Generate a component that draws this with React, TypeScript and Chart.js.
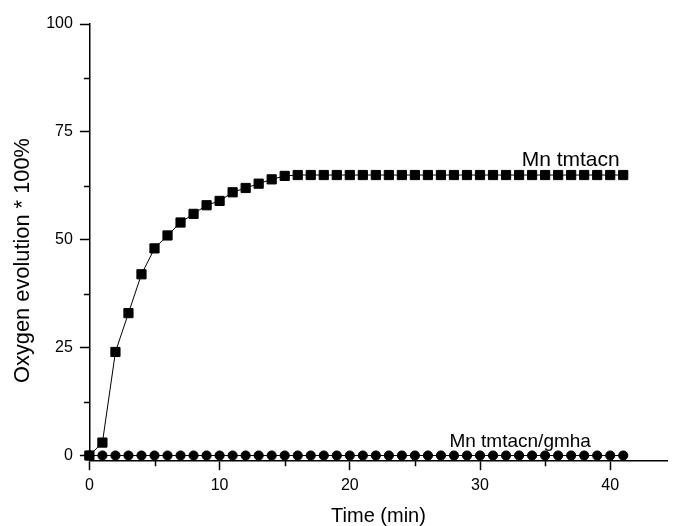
import React, { useEffect, useRef } from 'react';
import { Chart, registerables } from 'chart.js';

Chart.register(...registerables);

// Sampling times (min)
const TIME_MIN = [
  0, 1, 2, 3, 4, 5, 6, 7, 8, 9, 10, 11, 12, 13, 14, 15, 16, 17, 18, 19, 20,
  21, 22, 23, 24, 25, 26, 27, 28, 29, 30, 31, 32, 33, 34, 35, 36, 37, 38, 39, 40, 41,
];

// Oxygen evolution (* 100%) for Mn tmtacn
const MN_TMTACN = [
  0, 3, 24, 33, 42, 48, 51, 54, 56, 58, 59, 61, 62, 63, 64, 64.8, 65, 65, 65, 65, 65,
  65, 65, 65, 65, 65, 65, 65, 65, 65, 65, 65, 65, 65, 65, 65, 65, 65, 65, 65, 65, 65,
];

// Oxygen evolution (* 100%) for Mn tmtacn/gmha
const MN_TMTACN_GMHA = [
  0, 0, 0, 0, 0, 0, 0, 0, 0, 0, 0, 0, 0, 0, 0, 0, 0, 0, 0, 0, 0,
  0, 0, 0, 0, 0, 0, 0, 0, 0, 0, 0, 0, 0, 0, 0, 0, 0, 0, 0, 0, 0,
];

const X_MAJOR_TICKS = [0, 10, 20, 30, 40];
const X_MINOR_TICKS = [5, 15, 25, 35];
const Y_MAJOR_TICKS = [0, 25, 50, 75, 100];
const Y_MINOR_TICKS = [12.5, 37.5, 62.5, 87.5];

const SERIES_NAMES = ['Mn tmtacn', 'Mn tmtacn/gmha'];
const X_TITLE = 'Time (min)';
const Y_TITLE = 'Oxygen evolution * 100%';

const FONT = '"Liberation Sans", Arial, sans-serif';
const W = 675;
const H = 526;

// In-plot series labels, anchored in data units (left edge, baseline)
const SERIES_LABELS = [
  { text: SERIES_NAMES[0], x: 33.2, y: 67.1, size: 21 },
  { text: SERIES_NAMES[1], x: 27.65, y: 2.0, size: 19 },
];

const decorations = {
  id: 'decorations',
  afterDraw(chart: any) {
    const { ctx, chartArea, scales } = chart;
    const xs = scales.x;
    const ys = scales.y;
    ctx.save();
    ctx.strokeStyle = '#000';
    ctx.lineWidth = 1.5;
    // minor ticks
    ctx.beginPath();
    X_MINOR_TICKS.forEach((v) => {
      const px = Math.round(xs.getPixelForValue(v)) + 0.5;
      ctx.moveTo(px, chartArea.bottom);
      ctx.lineTo(px, chartArea.bottom + 5.5);
    });
    Y_MINOR_TICKS.forEach((v) => {
      const py = Math.round(ys.getPixelForValue(v)) + 0.5;
      ctx.moveTo(chartArea.left - 5.5, py);
      ctx.lineTo(chartArea.left, py);
    });
    ctx.stroke();

    ctx.fillStyle = '#000';
    // series labels
    ctx.textAlign = 'left';
    ctx.textBaseline = 'alphabetic';
    SERIES_LABELS.forEach((l) => {
      ctx.font = `${l.size}px ${FONT}`;
      ctx.fillText(l.text, xs.getPixelForValue(l.x), ys.getPixelForValue(l.y));
    });

    // axis titles
    ctx.textAlign = 'center';
    ctx.font = `20px ${FONT}`;
    ctx.fillText(X_TITLE, (chartArea.left + chartArea.right) / 2, 522);
    ctx.save();
    ctx.translate(28.5, 260.5);
    ctx.rotate(-Math.PI / 2);
    ctx.font = `21.8px ${FONT}`;
    ctx.fillText(Y_TITLE, 0, 0);
    ctx.restore();
    ctx.restore();
  },
};

export default function App() {
  const ref = useRef<HTMLCanvasElement>(null);

  useEffect(() => {
    document.body.style.margin = '0';
    const canvas = ref.current;
    if (!canvas) return;
    const chart = new Chart(canvas, {
      type: 'line',
      data: {
        datasets: [
          {
            label: SERIES_NAMES[0],
            data: TIME_MIN.map((t, i) => ({ x: t, y: MN_TMTACN[i] })),
            borderColor: '#000',
            backgroundColor: '#000',
            borderWidth: 1,
            pointStyle: 'rect',
            pointRadius: 6.5,
            pointBorderWidth: 1,
            pointBackgroundColor: '#000',
            pointBorderColor: '#000',
            tension: 0,
            clip: false,
          },
          {
            label: SERIES_NAMES[1],
            data: TIME_MIN.map((t, i) => ({ x: t, y: MN_TMTACN_GMHA[i] })),
            borderColor: '#000',
            backgroundColor: '#000',
            borderWidth: 1,
            pointStyle: 'circle',
            pointRadius: 4.6,
            pointBorderWidth: 1,
            pointBackgroundColor: '#000',
            pointBorderColor: '#000',
            tension: 0,
            clip: false,
          },
        ],
      },
      options: {
        animation: false,
        responsive: false,
        devicePixelRatio: 1,
        layout: { padding: { left: 0, right: 0, top: 24, bottom: 0 } },
        plugins: {
          legend: { display: false },
          tooltip: { enabled: false },
        },
        scales: {
          x: {
            type: 'linear',
            min: 0,
            max: 44.4,
            afterBuildTicks: (s: any) => {
              s.ticks = X_MAJOR_TICKS.map((value) => ({ value }));
            },
            afterFit: (s: any) => {
              s.height = H - 460.7;
            },
            ticks: {
              color: '#000',
              font: { family: FONT, size: 16 },
              padding: 6,
              maxRotation: 0,
              autoSkip: false,
            },
            grid: {
              drawOnChartArea: false,
              drawTicks: true,
              tickLength: 9.5,
              tickColor: '#000',
              tickWidth: 1.5,
            },
            border: { display: true, color: '#000', width: 1.5 },
          },
          y: {
            type: 'linear',
            min: -1.2,
            max: 100,
            afterBuildTicks: (s: any) => {
              s.ticks = Y_MAJOR_TICKS.map((value) => ({ value }));
            },
            afterFit: (s: any) => {
              s.width = 89.4;
            },
            ticks: {
              color: '#000',
              font: { family: FONT, size: 16 },
              padding: 7,
              autoSkip: false,
            },
            grid: {
              drawOnChartArea: false,
              drawTicks: true,
              tickLength: 9.5,
              tickColor: '#000',
              tickWidth: 1.5,
            },
            border: { display: true, color: '#000', width: 1.5 },
          },
        },
      },
      plugins: [decorations],
    });
    return () => chart.destroy();
  }, []);

  return (
    <div style={{ width: W, height: H }}>
      <canvas ref={ref} width={W} height={H} style={{ display: 'block' }} />
    </div>
  );
}
